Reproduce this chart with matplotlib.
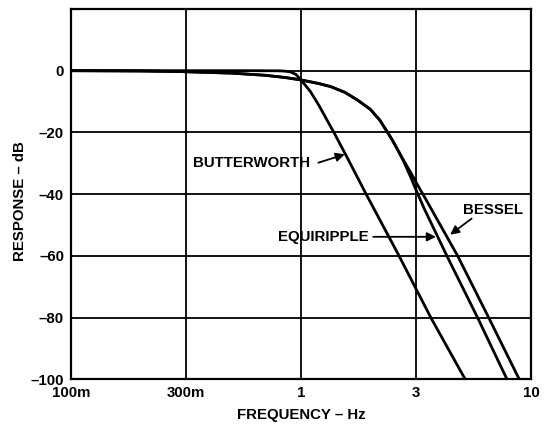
import matplotlib
matplotlib.use("Agg")
import matplotlib.pyplot as plt
from matplotlib.ticker import FixedLocator, FixedFormatter, NullLocator

plt.rcParams['font.family'] = ['Liberation Sans', 'DejaVu Sans']
plt.rcParams['font.weight'] = 'bold'

# values (frequency in Hz, response in dB)
butter_f = [0.1, 0.3, 0.6, 0.8, 0.85, 0.9, 0.95, 1.0, 1.1, 1.2, 1.3, 1.39, 1.6, 1.92, 2.67, 3.67, 5.18]
butter_db = [0, 0, 0, -0.05, -0.15, -0.4, -1.2, -3, -6.8, -11.4, -16.1, -20, -28.6, -40, -60, -80, -100]

equi_f = [0.1, 0.2, 0.3, 0.5, 0.7, 0.85, 1.0, 1.2, 1.35, 1.55, 1.76, 2.0, 2.2, 2.38, 2.5, 2.65,
          2.8, 3.0, 3.2, 3.45, 4.31, 5.86, 7.87]
equi_db = [0, -0.1, -0.3, -0.8, -1.5, -2.2, -3, -4.2, -5.2, -7, -9.5, -12.5, -16, -20, -22.6, -26,
           -29.5, -34.5, -39.5, -45, -60, -80, -100]

bessel_f = [0.1, 0.2, 0.3, 0.5, 0.7, 0.85, 1.0, 1.2, 1.35, 1.55, 1.76, 2.0, 2.2, 2.38, 2.5, 2.65,
            2.8, 3.0, 3.2, 3.45, 4.8, 6.55, 8.9]
bessel_db = [0, -0.1, -0.3, -0.8, -1.5, -2.2, -3, -4.2, -5.2, -7, -9.5, -12.5, -16, -20, -22.6, -26,
             -29.2, -33, -36.8, -41, -60, -80, -100]

x_ticks = [0.1, 10 ** -0.5, 1, 10 ** 0.5, 10]
x_labels = ['100m', '300m', '1', '3', '10']
y_ticks = [-100, -80, -60, -40, -20, 0]
y_labels = ['\u2013100', '\u201380', '\u201360', '\u201340', '\u201320', '0']

fig = plt.figure(figsize=(5.44, 4.24), dpi=100)
ax = fig.add_axes([0.1305, 0.105, 0.8456, 0.874])

for f, db in [(butter_f, butter_db), (equi_f, equi_db), (bessel_f, bessel_db)]:
    ax.plot(f, db, color='black', lw=2.0, solid_capstyle='butt', solid_joinstyle='round', zorder=3)

ax.set_xscale('log')
ax.set_xlim(0.1, 10)
ax.set_ylim(-100, 20)
ax.xaxis.set_major_locator(FixedLocator(x_ticks))
ax.xaxis.set_major_formatter(FixedFormatter(x_labels))
ax.xaxis.set_minor_locator(NullLocator())
ax.yaxis.set_major_locator(FixedLocator(y_ticks))
ax.yaxis.set_major_formatter(FixedFormatter(y_labels))
ax.tick_params(length=0, labelsize=10.8, pad=5)
ax.grid(True, color='black', lw=1.3)
for s in ax.spines.values():
    s.set_linewidth(1.6)

fig.text(301 / 544, 1 - 415 / 424, 'FREQUENCY \u2013 Hz', ha='center', va='center',
         fontsize=10.8, fontweight='bold')
fig.text(20 / 544, 1 - 201 / 424, 'RESPONSE \u2013 dB', ha='center', va='center',
         rotation=90, fontsize=10.8, fontweight='bold')

arrow = dict(arrowstyle='-|>', color='black', lw=1.3, mutation_scale=13, shrinkA=0, shrinkB=0)

ax.text(0.34, -29.8, 'BUTTERWORTH', ha='left', va='center', fontsize=10.8, fontweight='bold')
ax.annotate('', xy=(1.55, -27.1), xytext=(1.19, -29.8), arrowprops=arrow)

ax.text(0.794, -53.8, 'EQUIRIPPLE', ha='left', va='center', fontsize=10.8, fontweight='bold')
ax.annotate('', xy=(3.86, -53.8), xytext=(2.06, -53.8), arrowprops=arrow)

ax.text(5.05, -45, 'BESSEL', ha='left', va='center', fontsize=10.8, fontweight='bold')
ax.annotate('', xy=(4.45, -53.1), xytext=(5.52, -47.9), arrowprops=arrow)

fig.savefig('out.png', dpi=100)
